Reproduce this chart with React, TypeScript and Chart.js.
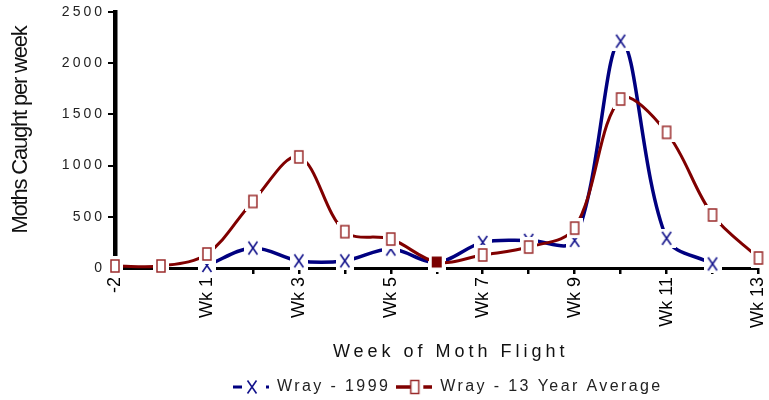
import React, { useEffect, useRef } from 'react';
import { Chart, registerables } from 'chart.js';

Chart.register(...registerables);

// ---------- data ----------
const categories = ['-2', '-1', 'Wk 1', 'Wk 2', 'Wk 3', 'Wk 4', 'Wk 5', 'Wk 6', 'Wk 7', 'Wk 8', 'Wk 9', 'Wk 10', 'Wk 11', 'Wk 12', 'Wk 13'];
const wray1999 = [null, null, 25, 195, 70, 70, 185, 55, 250, 270, 270, 2215, 290, 40, null];
const wray13YearAverage = [20, 20, 137, 650, 1085, 355, 283, 58, 127, 205, 390, 1650, 1325, 518, 98];
const seriesNames = ['Wray - 1999', 'Wray - 13 Year Average'];
const yMin = 0;
const yMax = 2500;
const yStep = 500;
const xTitle = 'Week of Moth Flight';
const yTitle = 'Moths Caught per week';

// ---------- styles ----------
const BLUE = '#000080';
const RED = '#800000';
const MARK_BLUE = '#14148c';
const MARK_RED = '#9a2b2b';
const SANS = '"Liberation Sans", Arial, sans-serif';
const LEGEND_H = 27;
const LEGEND_X = 233;
const LEGEND_PAD = 6;

function makeCanvas(w: number, h: number, draw: (g: CanvasRenderingContext2D) => void) {
  const c = document.createElement('canvas');
  c.width = w;
  c.height = h;
  const g = c.getContext('2d') as CanvasRenderingContext2D;
  draw(g);
  return c;
}

function drawX(g: CanvasRenderingContext2D, cx: number, cy: number) {
  g.strokeStyle = MARK_BLUE;
  g.lineWidth = 1.6;
  g.beginPath();
  g.moveTo(cx - 4.5, cy - 6.5);
  g.lineTo(cx + 4.5, cy + 6.5);
  g.moveTo(cx + 4.5, cy - 6.5);
  g.lineTo(cx - 4.5, cy + 6.5);
  g.stroke();
}

export default function App() {
  const ref = useRef<HTMLCanvasElement | null>(null);

  useEffect(() => {
    document.body.style.margin = '0';
    const canvas = ref.current;
    if (!canvas) return;

    const xMarker = makeCanvas(18, 19, (g) => {
      g.fillStyle = '#ffffff';
      g.fillRect(0, 0, 18, 19);
      drawX(g, 9, 9.5);
    });
    const squareMarker = makeCanvas(16, 20, (g) => {
      g.fillStyle = '#ffffff';
      g.fillRect(0, 0, 16, 20);
      g.strokeStyle = MARK_RED;
      g.lineWidth = 1.5;
      g.strokeRect(4, 4, 8, 12);
    });
    const filledSquareMarker = makeCanvas(16, 20, (g) => {
      g.fillStyle = '#ffffff';
      g.fillRect(0, 0, 16, 20);
      g.fillStyle = '#7a0000';
      g.fillRect(3, 4.5, 10, 11);
    });
    const legendBlue = makeCanvas(36, 18, (g) => {
      g.strokeStyle = BLUE;
      g.lineWidth = 3;
      g.beginPath();
      g.moveTo(0, 9);
      g.lineTo(9, 9);
      g.moveTo(33, 9);
      g.lineTo(36, 9);
      g.stroke();
      drawX(g, 19, 9);
    });
    const legendRed = makeCanvas(36, 18, (g) => {
      g.strokeStyle = RED;
      g.lineWidth = 3.5;
      g.beginPath();
      g.moveTo(0, 9);
      g.lineTo(14, 9);
      g.moveTo(27, 9);
      g.lineTo(36, 9);
      g.stroke();
      g.fillStyle = '#fff';
      g.fillRect(14, 2, 9, 14);
      g.strokeStyle = MARK_RED;
      g.lineWidth = 1.5;
      g.strokeRect(14.5, 2.5, 8, 13);
    });
    const legendIcons = [legendBlue, legendRed];

    const patchPlugin = {
      id: 'textPatch',
      afterInit(chart: any) {
        const lg = chart.legend;
        if (!lg) return;
        const fit = lg.fit;
        lg.fit = function () {
          const ctx = this.ctx;
          const prev = ctx.letterSpacing;
          ctx.letterSpacing = '2.4px';
          fit.call(this);
          ctx.letterSpacing = prev;
          this.height = LEGEND_H;
        };
        const draw = lg.draw;
        lg.draw = function (area: any) {
          const ctx = this.ctx;
          ctx.save();
          ctx.letterSpacing = '2.4px';
          ctx.translate(LEGEND_X - (this.left + LEGEND_PAD), 0);
          draw.call(this, area);
          ctx.restore();
        };
      },
      beforeDraw(chart: any) {
        const y = chart.scales.y;
        const x = chart.scales.x;
        if (y && !y.__patched) {
          y.__patched = true;
          const dl = y.drawLabels;
          y.drawLabels = function (a: any) {
            const ctx = this.ctx;
            ctx.save();
            ctx.letterSpacing = '3px';
            dl.call(this, a);
            ctx.restore();
          };
          const dt = y.drawTitle;
          y.drawTitle = function () {
            const ctx = this.ctx;
            ctx.save();
            ctx.letterSpacing = '-1.2px';
            ctx.translate(0, -10);
            dt.call(this);
            ctx.restore();
          };
        }
        if (x && !x.__patched) {
          x.__patched = true;
          const dt = x.drawTitle;
          x.drawTitle = function () {
            const ctx = this.ctx;
            ctx.save();
            ctx.letterSpacing = '4px';
            ctx.translate(14, 0);
            dt.call(this);
            ctx.restore();
          };
        }
      },
    };

    const chart = new Chart(canvas, {
      type: 'line',
      data: {
        labels: categories,
        datasets: [
          {
            label: seriesNames[0],
            data: wray1999,
            borderColor: BLUE,
            backgroundColor: BLUE,
            borderWidth: 3.5,
            tension: 0.35,
            fill: false,
            pointStyle: xMarker as any,
            pointRadius: 7,
            clip: false as any,
            order: 1,
          },
          {
            label: seriesNames[1],
            data: wray13YearAverage,
            borderColor: RED,
            backgroundColor: RED,
            borderWidth: 3,
            tension: 0.35,
            fill: false,
            pointStyle: ((c: any) => (c.dataIndex === 7 ? filledSquareMarker : squareMarker)) as any,
            pointRadius: 7,
            clip: false as any,
            order: 0,
          },
        ],
      },
      options: {
        responsive: false,
        animation: false,
        devicePixelRatio: 1,
        layout: { padding: { top: 12, right: 9, left: 0, bottom: 0 } },
        plugins: {
          tooltip: { enabled: false },
          legend: {
            position: 'bottom',
            align: 'start',
            labels: {
              usePointStyle: true,
              pointStyleWidth: 36,
              padding: LEGEND_PAD,
              color: '#222',
              font: { family: SANS, size: 16 },
              generateLabels: () =>
                seriesNames.map((name, i) => ({
                  text: name,
                  datasetIndex: i,
                  pointStyle: legendIcons[i] as any,
                  fillStyle: 'rgba(0,0,0,0)',
                  strokeStyle: 'rgba(0,0,0,0)',
                  lineWidth: 0,
                  hidden: false,
                  fontColor: '#222',
                })),
            },
          },
        },
        scales: {
          x: {
            type: 'category',
            offset: false,
            grid: { display: true, drawOnChartArea: false, drawTicks: true, tickLength: 6, color: '#000', lineWidth: 2.5 },
            border: { display: true, color: '#000', width: 3 },
            ticks: {
              autoSkip: false,
              minRotation: 90,
              maxRotation: 90,
              padding: 3,
              color: '#000',
              font: { family: SANS, size: 18, lineHeight: 1 },
              callback: (_v: any, i: number) => (i % 2 === 0 ? categories[i] : ''),
            },
            title: {
              display: true,
              text: xTitle,
              color: '#111',
              font: { family: SANS, size: 18 },
              padding: { top: 0, bottom: 10 },
            },
            afterFit: (s: any) => {
              s.height = 400 - LEGEND_H - 268;
              s.paddingLeft = 0;
              s.paddingRight = 0;
            },
          },
          y: {
            min: yMin,
            max: yMax,
            grid: { display: true, drawOnChartArea: false, drawTicks: true, tickLength: 7, color: '#000', lineWidth: 2 },
            border: { display: true, color: '#000', width: 4.5 },
            ticks: {
              stepSize: yStep,
              padding: 3,
              color: '#222',
              font: { family: SANS, size: 14 },
              callback: (v: any) => String(v),
            },
            title: {
              display: true,
              text: yTitle,
              color: '#111',
              font: { family: SANS, size: 22 },
              padding: { top: 8, bottom: 0 },
            },
            afterFit: (s: any) => {
              s.width = 115;
            },
          },
        },
      },
      plugins: [patchPlugin as any],
    });

    return () => {
      chart.destroy();
    };
  }, []);

  return (
    <div style={{ width: 769, height: 400, background: '#fff' }}>
      <canvas ref={ref} width={769} height={400} style={{ display: 'block' }} />
    </div>
  );
}
